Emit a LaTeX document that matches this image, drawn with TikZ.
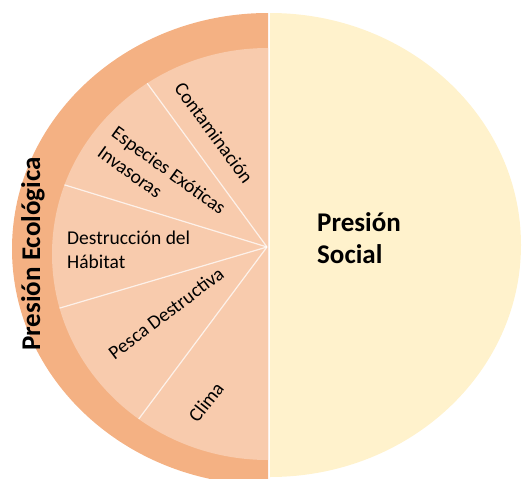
\documentclass[tikz,border=0pt]{standalone}
\usepackage{fontspec}
\setmainfont{Carlito}
\usepackage{tikz}
\usetikzlibrary{calc}
\definecolor{ringorange}{HTML}{F4B183}
\definecolor{pieorange}{HTML}{F8CBAD}
\definecolor{socialcream}{HTML}{FFF2CC}

\begin{document}
\begin{tikzpicture}[x=1pt,y=-1pt,
  cause/.style={inner sep=0pt,font=\fontsize{19.5}{24}\selectfont},
  pressure/.style={inner sep=0pt,font=\fontsize{27}{32}\selectfont\bfseries},
  spoke/.style={white,opacity=0.75,line width=1.2pt}]
  \useasboundingbox (0,0) rectangle (522,479);
  % ecological pressure: outer ring and inner pie
  \begin{scope}
    \clip (0,0) rectangle (268,479);
    \fill[ringorange] (268,249) ellipse [x radius=256,y radius=236];
    \fill[pieorange] (268,254) ellipse [x radius=216,y radius=206];
  \end{scope}
  % social pressure
  \begin{scope}
    \clip (270,0) rectangle (522,479);
    \fill[socialcream] (270,245) ellipse [x radius=251,y radius=232];
  \end{scope}
  % spokes between the five causes
  \coordinate (hub) at (267,247);
  \coordinate (s1) at (147,83);
  \coordinate (s2) at (65,185);
  \coordinate (s3) at (60,308);
  \coordinate (s4) at (138,420);
  \begin{scope}
    \clip (268,254) ellipse [x radius=216,y radius=206];
    \foreach \i in {1,...,4}
      \draw[spoke] (hub) -- ($(hub)!1.3!(s\i)$);
  \end{scope}
  % labels
  \node[pressure,rotate=90] (eco) at (33,254) {Presión Ecológica};
  \node[pressure,align=left,anchor=north west] (social) at (317,212) {Presión\\Social};
  \node[cause,rotate=-54] (conta) at (214,133) {Contaminación};
  \node[cause,rotate=-36,align=left] (especies) at (162,180) {Especies Exóticas\\Invasoras};
  \node[cause,align=left,anchor=west] (habitat) at (67,250) {Destrucción del\\Hábitat};
  \node[cause,rotate=37] (pesca) at (166,313) {Pesca Destructiva};
  \node[cause,rotate=52] (clima) at (206,402) {Clima};
\end{tikzpicture}
\end{document}
